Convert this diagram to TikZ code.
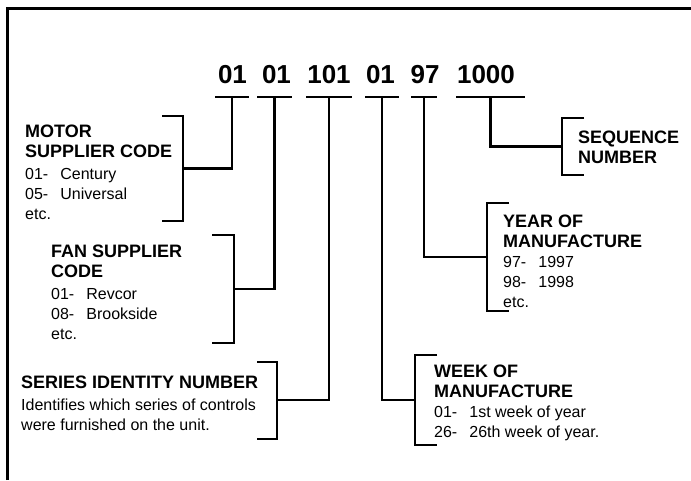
\documentclass[tikz,border=0pt]{standalone}
\usepackage{fontspec}
\setmainfont{Liberation Sans}
\usetikzlibrary{positioning, calc}
\definecolor{inkblack}{RGB}{0,0,0}

\newcommand{\headline}[1]{{\fontsize{18}{20}\selectfont\bfseries #1}}
\newcommand{\entry}[2]{\makebox[2.2em][l]{#1}#2}

\begin{document}
\begin{tikzpicture}[
    x=1pt, y=-1pt,
    digits/.style={anchor=base, inner sep=0pt, font=\fontsize{26}{30}\selectfont\bfseries},
    label/.style={anchor=north west, inner sep=0pt, align=left, font=\fontsize{16}{20}\selectfont},
    bar/.style={line width=2.4pt, inkblack},
    frame/.style={line width=3pt, inkblack}
]
\useasboundingbox (0,0) rectangle (691,480);

% Frame
\draw[frame] (7,480) -- (7,8) -- (691,8);

% Code digits with underlines
\foreach \name/\txt/\xc/\xa/\xb in {motor/01/232.5/215/249, fan/01/276.5/257/292, series/101/329/306/352, week/01/380.5/365/399, year/97/425/411/437, seq/1000/486/456/525} {
  \node[digits] (\name-num) at (\xc,83) {\txt};
  \draw[bar] (\xa,97) -- (\xb,97);
  \coordinate (\name-stem) at ({(\xa+\xb)/2},97);
}

% Motor supplier code
\node[label] (motor) at (25,125) {\headline{MOTOR}\\\headline{SUPPLIER CODE}\\[2pt]\entry{01-}{Century}\\\entry{05-}{Universal}\\etc.};
\draw[bar] (162,116) -- (183,116) -- (183,221) -- (162,221);
\coordinate (motor-mid) at (183,168.5);
\draw[bar] (motor-stem) |- (motor-mid);

% Fan supplier code
\node[label] (fan) at (51,245) {\headline{FAN SUPPLIER}\\\headline{CODE}\\[2pt]\entry{01-}{Revcor}\\\entry{08-}{Brookside}\\etc.};
\draw[bar] (212,235) -- (234,235) -- (234,343) -- (212,343);
\coordinate (fan-mid) at (234,289);
\draw[bar] (fan-stem) |- (fan-mid);

% Series identity number
\node[label] (series) at (21,376) {\headline{SERIES IDENTITY NUMBER}\\[2pt]Identifies which series of controls\\were furnished on the unit.};
\draw[bar] (257,362) -- (277,362) -- (277,439) -- (257,439);
\coordinate (series-mid) at (277,400);
\draw[bar] (series-stem) |- (series-mid);

% Week of manufacture
\node[label] (week) at (434,365) {\headline{WEEK OF}\\\headline{MANUFACTURE}\\\entry{01-}{1st week of year}\\\entry{26-}{26th week of year.}};
\draw[bar] (437,355) -- (415,355) -- (415,445) -- (437,445);
\coordinate (week-mid) at (415,400);
\draw[bar] (week-stem) |- (week-mid);

% Year of manufacture
\node[label] (year) at (503,215) {\headline{YEAR OF}\\\headline{MANUFACTURE}\\\entry{97-}{1997}\\\entry{98-}{1998}\\etc.};
\draw[bar] (509,203) -- (487,203) -- (487,311) -- (509,311);
\coordinate (year-mid) at (487,257);
\draw[bar] (year-stem) |- (year-mid);

% Sequence number
\node[label] (seq) at (578,131) {\headline{SEQUENCE}\\\headline{NUMBER}};
\draw[bar] (584,118) -- (562,118) -- (562,175) -- (584,175);
\coordinate (seq-mid) at (562,146.5);
\draw[bar] (seq-stem) |- (seq-mid);

\end{tikzpicture}
\end{document}
